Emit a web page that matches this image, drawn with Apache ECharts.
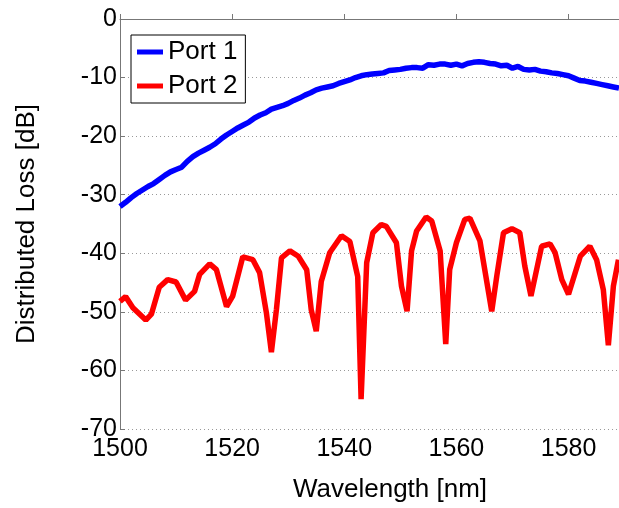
<!DOCTYPE html>
<html>
<head>
<meta charset="utf-8">
<script src="https://cdn.jsdelivr.net/npm/echarts@6/dist/echarts.min.js"></script>
<style>
html, body { margin: 0; padding: 0; background: #fff; }
#lossChart { width: 619px; height: 508px; }
</style>
</head>
<body>
<div id="lossChart"></div>
<script>
// Port 1 (blue), read every 1 nm
var port1Wl = [];
for (var w = 1500; w <= 1589; w++) port1Wl.push(w);
var port1Loss = [
	-32.0, -31.3, -30.5, -29.8, -29.2, -28.6, -28.1, -27.4, -26.7, -26.1,
	-25.7, -25.3, -24.3, -23.5, -22.9, -22.4, -21.9, -21.3, -20.5, -19.8,
	-19.2, -18.6, -18.1, -17.6, -16.9, -16.4, -16.0, -15.4, -15.1, -14.8,
	-14.4, -13.9, -13.5, -13.0, -12.6, -12.1, -11.8, -11.6, -11.4, -11.0,
	-10.7, -10.4, -10.0, -9.7, -9.5, -9.4, -9.3, -9.2, -8.8, -8.7,
	-8.6, -8.4, -8.3, -8.3, -8.4, -7.8, -7.9, -7.7, -7.7, -7.9,
	-7.7, -8.0, -7.6, -7.4, -7.3, -7.4, -7.6, -7.7, -8.0, -7.9,
	-8.4, -8.1, -8.6, -8.7, -8.6, -8.9, -9.0, -9.2, -9.3, -9.5,
	-9.7, -10.1, -10.5, -10.6, -10.8, -11.0, -11.2, -11.4, -11.6, -11.8
];

// Port 2 (red), read at peaks and dips
var port2Wl = [
	1500.0, 1501.0, 1502.3, 1504.6, 1505.6, 1507.0, 1508.5, 1510.0, 1511.7, 1513.3,
	1514.2, 1516.0, 1517.2, 1519.0, 1520.1, 1521.9, 1523.7, 1524.9, 1526.1, 1527.0,
	1527.9, 1528.8, 1530.3, 1531.8, 1533.3, 1534.1, 1535.0, 1535.9, 1537.4, 1539.5,
	1541.0, 1542.4, 1543.0, 1544.0, 1545.1, 1546.6, 1547.5, 1549.3, 1550.2, 1551.2,
	1552.0, 1552.9, 1554.6, 1555.6, 1557.1, 1558.1, 1558.8, 1560.0, 1561.5, 1562.4,
	1564.2, 1566.3, 1567.2, 1568.4, 1569.9, 1571.3, 1572.2, 1573.3, 1575.2, 1576.7,
	1577.6, 1578.8, 1580.0, 1582.1, 1583.8, 1585.0, 1586.2, 1587.1, 1588.0, 1588.9
];
var port2Loss = [
	-48.2, -47.4, -49.3, -51.4, -50.4, -45.8, -44.5, -44.9, -48.0, -46.5,
	-43.6, -41.8, -42.8, -49.1, -47.3, -40.6, -41.1, -43.3, -50.1, -56.9,
	-49.6, -40.8, -39.6, -40.5, -42.8, -49.6, -53.3, -44.8, -39.9, -37.0,
	-38.0, -44.0, -64.9, -41.6, -36.5, -35.1, -35.4, -38.2, -45.6, -49.9,
	-39.6, -36.2, -33.8, -34.5, -39.6, -55.5, -42.8, -38.2, -34.2, -34.0,
	-37.9, -49.9, -43.9, -36.5, -35.8, -36.5, -42.2, -47.3, -38.8, -38.4,
	-39.9, -44.5, -47.0, -40.5, -38.8, -41.1, -46.2, -55.7, -45.6, -41.1
];

var xTicks = [1500, 1520, 1540, 1560, 1580];
var yTicks = [0, -10, -20, -30, -40, -50, -60, -70];

function pairs(xs, ys) {
	var out = [];
	for (var i = 0; i < xs.length; i++) out.push([xs[i], ys[i]]);
	return out;
}

var fontName = 'Liberation Sans, Arial, sans-serif';
var chart = echarts.init(document.getElementById('lossChart'));
chart.setOption({
	animation: false,
	backgroundColor: '#fff',
	textStyle: { fontFamily: fontName },
	grid: { left: 120, right: 0, top: 19, bottom: 78 },
	legend: {
		left: 131,
		top: 35,
		orient: 'vertical',
		icon: 'rect',
		itemWidth: 26,
		itemHeight: 5,
		itemGap: 8,
		padding: [4, 8, 4, 6],
		borderColor: '#000',
		borderWidth: 1,
		backgroundColor: '#fff',
		textStyle: { fontSize: 26, color: '#000', fontFamily: fontName, lineHeight: 26 },
		data: ['Port 1', 'Port 2']
	},
	xAxis: {
		type: 'value',
		min: 1500,
		max: 1589,
		interval: 20,
		name: 'Wavelength [nm]',
		nameLocation: 'middle',
		nameGap: 48,
		nameTextStyle: { fontSize: 26, color: '#000', fontFamily: fontName, padding: [0, 0, 0, 41] },
		axisLine: { lineStyle: { color: '#777', width: 1 } },
		axisTick: { inside: true, length: 5, lineStyle: { color: '#777' } },
		axisLabel: {
			fontSize: 25, color: '#000', margin: 8, showMaxLabel: false,
			formatter: function(v) { return xTicks.indexOf(v) >= 0 ? String(v) : ''; }
		},
		splitLine: { show: false }
	},
	yAxis: {
		type: 'value',
		min: -70,
		max: 0,
		interval: 10,
		name: 'Distributed Loss [dB]',
		nameLocation: 'middle',
		nameGap: 80,
		nameTextStyle: { fontSize: 26, color: '#000', fontFamily: fontName },
		axisLine: { show: true, lineStyle: { color: '#777', width: 1 } },
		axisTick: { show: true, inside: true, length: 5, lineStyle: { color: '#777' } },
		axisLabel: {
			fontSize: 25, color: '#000', margin: 3,
			formatter: function(v) { return yTicks.indexOf(v) >= 0 ? String(v) : ''; }
		},
		splitLine: { show: true, lineStyle: { color: '#999', type: [1, 3], width: 1 } }
	},
	series: [{
			name: 'Port 1',
			type: 'line',
			showSymbol: false,
			color: '#0000ff',
			lineStyle: { color: '#0000ff', width: 5.5 },
			data: pairs(port1Wl, port1Loss)
		},
		{
			name: 'Port 2',
			type: 'line',
			showSymbol: false,
			color: '#ff0000',
			lineStyle: { color: '#ff0000', width: 5.5 },
			data: pairs(port2Wl, port2Loss)
		}
	]
});
</script>
</body>
</html>
